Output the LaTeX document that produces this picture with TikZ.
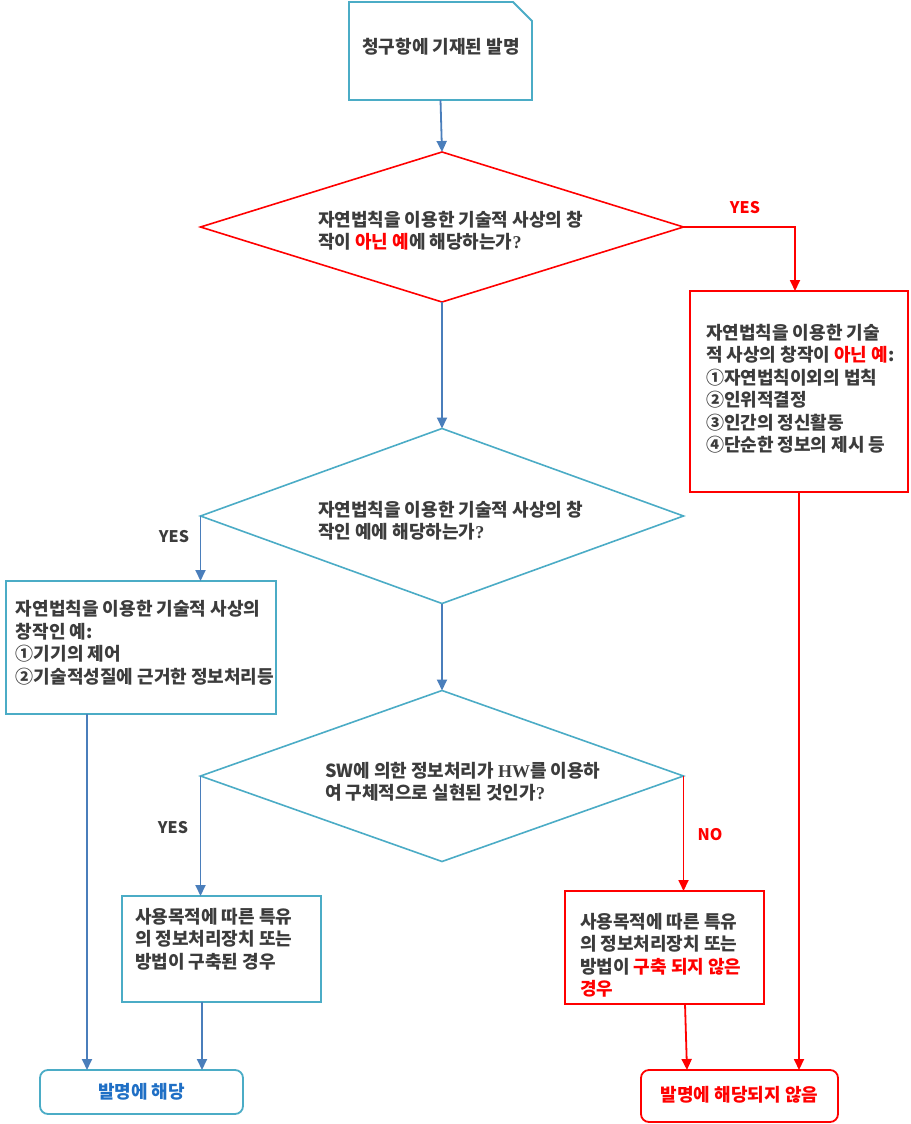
\documentclass[tikz,border=0pt]{standalone}
\usepackage{fontspec}
\setmainfont{Noto Sans CJK KR}
\newfontfamily\serifb{Liberation Serif}
\usetikzlibrary{arrows.meta,shapes.geometric}
\definecolor{tealb}{HTML}{4BACC6}
\definecolor{arrb}{HTML}{4A7EBB}
\definecolor{txtg}{HTML}{3C3C3C}
\definecolor{blutxt}{HTML}{1F6FC5}
\definecolor{redc}{HTML}{FF0000}
\begin{document}
\begin{tikzpicture}[x=1pt,y=-1pt,
  every node/.style={inner sep=0pt, outer sep=0pt},
  tbox/.style={draw=tealb, line width=1.8pt, rectangle},
  rbox/.style={draw=redc, line width=1.8pt, rectangle},
  tdia/.style={draw=tealb, line width=1.6pt, diamond},
  rdia/.style={draw=redc, line width=1.6pt, diamond},
  txt/.style={font=\fontsize{18}{22.5}\selectfont\bfseries, text=txtg, align=left},
  lbl/.style={font=\fontsize{16}{18}\selectfont\bfseries},
  barr/.style={draw=arrb, line width=1.8pt, -{Triangle[length=11pt,width=10pt]}},
  rarr/.style={draw=redc, line width=1.8pt, -{Triangle[length=11pt,width=10pt]}}]
\useasboundingbox (0,0) rectangle (910,1124);
\fill[white] (0,0) rectangle (910,1124);

% shapes
\node[minimum width=183pt, minimum height=98pt] (top) at (440.5,51) {};
\draw[draw=tealb, line width=1.8pt] (top.south west) -- (top.north west) -- ([xshift=-19pt]top.north east) -- ([yshift=-19pt]top.north east) -- (top.south east) -- cycle;
\node[rdia, minimum width=483pt, minimum height=150pt] (d1) at (442,227) {};
\node[rbox, minimum width=218pt, minimum height=201pt] (rb) at (799,391.5) {};
\node[tdia, minimum width=483pt, minimum height=175pt] (d2) at (442,516) {};
\node[tbox, minimum width=270pt, minimum height=133pt] (b3) at (141,647.5) {};
\node[tdia, minimum width=483pt, minimum height=171pt] (d3) at (442,776) {};
\node[tbox, minimum width=199pt, minimum height=106pt] (b4) at (221.5,949) {};
\node[rbox, minimum width=199pt, minimum height=113pt] (b5) at (664.5,947.5) {};
\node[tbox, rounded corners=8pt, minimum width=203pt, minimum height=44pt] (e1) at (141.5,1092) {};
\node[rbox, rounded corners=8pt, minimum width=197pt, minimum height=52pt] (e2) at (739.5,1096) {};

% texts
\node[txt] (ttop) at (441,47) {청구항에 기재된 발명};
\node[txt, anchor=west] (td1) at (318,231) {자연법칙을 이용한 기술적 사상의 창\\작이 {\color{redc}아닌 예}에 해당하는가{\serifb ?}};
\node[txt, anchor=west] (trb) at (706,389) {자연법칙을 이용한 기술\\적 사상의 창작이 {\color{redc}아닌 예}:\\①자연법칙이외의 법칙\\②인위적결정\\③인간의 정신활동\\④단순한 정보의 제시 등};
\node[txt, anchor=west] (td2) at (318,521) {자연법칙을 이용한 기술적 사상의 창\\작인 예에 해당하는가{\serifb ?}};
\node[txt, anchor=west] (tb3) at (16,643) {자연법칙을 이용한 기술적 사상의\\창작인 예:\\①기기의 제어\\②기술적성질에 근거한 정보처리등};
\node[txt, anchor=west] (td3) at (325,782) {SW에 의한 정보처리가 {\serifb HW}를 이용하\\여 구체적으로 실현된 것인가{\serifb ?}};
\node[txt, anchor=west] (tb4) at (135,939) {사용목적에 따른 특유\\의 정보처리장치 또는\\방법이 구축된 경우};
\node[txt, anchor=west] (tb5) at (580,955) {사용목적에 따른 특유\\의 정보처리장치 또는\\방법이 {\color{redc}구축 되지 않은}\\{\color{redc}경우}};
\node[txt, text=blutxt] (te1) at (141.5,1092) {발명에 해당};
\node[txt, text=redc] (te2) at (739.5,1095) {발명에 해당되지 않음};

% connectors
\draw[barr] (top.south) -- (d1.north);
\draw[rarr] (d1.east) -| ([xshift=-4pt]rb.north);
\draw[rarr] (rb.south) -- (rb.south |- e2.north);
\draw[barr] (d1.south) -- (d2.north);
\draw[barr] (d2.west) -- (d2.west |- b3.north);
\draw[barr] ([xshift=-54pt]b3.south) -- ([xshift=-54pt]b3.south |- e1.north);
\draw[barr] (d2.south) -- (d3.north);
\draw[barr] (d3.west) -- (d3.west |- b4.north);
\draw[barr] ([xshift=-19.5pt]b4.south) -- ([xshift=-19.5pt]b4.south |- e1.north);
\draw[rarr] (d3.east) -- (d3.east |- b5.north);
\draw[rarr] ([xshift=20.5pt]b5.south) -- ([xshift=22.5pt]b5.south |- e2.north);

% labels
\node[lbl, text=redc] (l1) at (745,208) {YES};
\node[lbl, text=txtg] (l2) at (174,537) {YES};
\node[lbl, text=txtg] (l3) at (173,828) {YES};
\node[lbl, text=redc] (l4) at (710,835) {NO};
\end{tikzpicture}
\end{document}
